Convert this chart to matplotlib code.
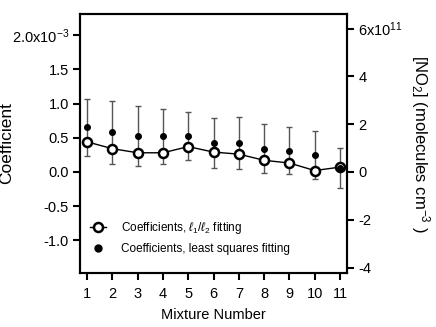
import matplotlib
matplotlib.use("Agg")
import matplotlib.pyplot as plt
from matplotlib.lines import Line2D

plt.rcParams["font.family"] = ["Liberation Sans", "DejaVu Sans"]
plt.rcParams["mathtext.fontset"] = "custom"
plt.rcParams["mathtext.rm"] = "Liberation Sans"
plt.rcParams["mathtext.it"] = "Liberation Sans:italic"
plt.rcParams["axes.unicode_minus"] = False

# data (coefficients in units of 1e-3)
mixture = [1, 2, 3, 4, 5, 6, 7, 8, 9, 10, 11]
coef_l1l2 = [0.44, 0.34, 0.28, 0.28, 0.37, 0.29, 0.26, 0.17, 0.13, 0.02, 0.07]
coef_lsq = [0.65, 0.58, 0.52, 0.52, 0.53, 0.42, 0.42, 0.34, 0.31, 0.25, 0.06]
coef_lsq_err = [0.41, 0.46, 0.44, 0.40, 0.35, 0.37, 0.38, 0.36, 0.34, 0.35, 0.29]

left_ticks = [-1.0, -0.5, 0.0, 0.5, 1.0, 1.5, 2.0]
left_labels = ["-1.0", "-0.5", "0.0", "0.5", "1.0", "1.5", "2.0x10$^{-3}$"]
right_ticks = [-4, -2, 0, 2, 4, 6]
right_labels = ["-4", "-2", "0", "2", "4", "6x10$^{11}$"]

fs = 10.5
lw = 1.5

fig = plt.figure(figsize=(4.36, 3.27), dpi=100)
ax = fig.add_axes([0.1835, 0.165, 0.6125, 0.792])

ax.errorbar(mixture, coef_lsq, yerr=coef_lsq_err, fmt="none", ecolor="#555555",
            elinewidth=1, capsize=2.5, capthick=1, zorder=1)
ax.plot(mixture, coef_l1l2, color="k", lw=1, marker="o", ms=6.5, mfc="white",
        mec="k", mew=1.8, zorder=2)
ax.plot(mixture, coef_lsq, ls="none", marker="o", ms=4, color="k", zorder=3)

ax.set_xlim(0.72, 11.28)
ax.set_ylim(-1.48, 2.31)
ax.set_xticks(mixture)
ax.set_yticks(left_ticks)
ax.set_yticklabels(left_labels)
ax.tick_params(axis="both", direction="out", length=5, width=lw, labelsize=fs)
ax.tick_params(axis="x", pad=5)
ax.tick_params(axis="y", pad=3)
for s in ax.spines.values():
    s.set_linewidth(lw)

ax.set_xlabel("Mixture Number", fontsize=fs, labelpad=5)
ax.set_ylabel("Coefficient", fontsize=12.5)
ax.yaxis.set_label_coords(-0.245, 0.5)

ax2 = ax.twinx()
ax2.set_ylim(-4.23, 6.61)
ax2.set_yticks(right_ticks)
ax2.set_yticklabels(right_labels)
ax2.tick_params(axis="y", direction="out", length=5, width=lw, labelsize=fs, pad=3)
for s in ax2.spines.values():
    s.set_linewidth(lw)
ax2.set_ylabel("[NO$_2$] (molecules cm$^{-3}$ )", fontsize=12, rotation=270,
               labelpad=21)

handles = [
    Line2D([0], [0], color="k", lw=1, marker="o", ms=6.5, mfc="white", mec="k", mew=1.8,
           label="Coefficients, $\\ell_1/\\ell_2$ fitting"),
    Line2D([0], [0], ls="none", marker="o", ms=5, color="k",
           label="Coefficients, least squares fitting"),
]
ax.legend(handles=handles, loc="lower left", bbox_to_anchor=(0.037, 0.07),
          frameon=False, fontsize=8.5, handlelength=1.4, handletextpad=1.2,
          labelspacing=0.55, borderpad=0, borderaxespad=0)

fig.savefig("out.png", dpi=100)
